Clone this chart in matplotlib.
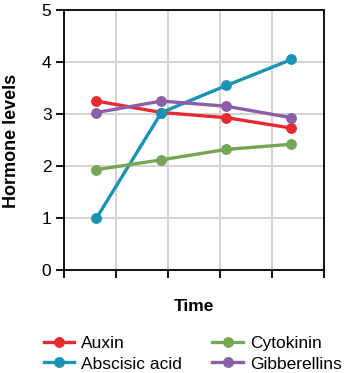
import matplotlib
matplotlib.use("Agg")
import matplotlib.pyplot as plt

plt.rcParams['font.family'] = ['Liberation Sans', 'DejaVu Sans']

x_positions = [0.625, 1.875, 3.125, 4.375]
auxin = [3.25, 3.03, 2.93, 2.73]
abscisic = [1.0, 3.03, 3.55, 4.05]
cytokinin = [1.93, 2.12, 2.32, 2.42]
gibberellins = [3.03, 3.25, 3.15, 2.93]
series_names = ["Auxin", "Abscisic acid", "Cytokinin", "Gibberellins"]
colors = ["#e52a32", "#1a93b5", "#76a655", "#8b5ea8"]
y_ticks = [0, 1, 2, 3, 4, 5]
x_ticks = [0, 1, 2, 3, 4, 5]

fig = plt.figure(figsize=(3.45, 3.73), dpi=100)
ax = fig.add_axes([0.1855, 0.276, 0.7536, 0.697])

data = [auxin, abscisic, cytokinin, gibberellins]
handles = []
for name, vals, c in zip(series_names, data, colors):
    h, = ax.plot(x_positions, vals, color=c, lw=2.4, marker='o', ms=6.8,
                 label=name, zorder=3)
    handles.append(h)

ax.set_xlim(0, 5)
ax.set_ylim(0, 5)
ax.set_xticks(x_ticks)
ax.set_xticklabels([])
ax.set_yticks(y_ticks)
ax.grid(True, color='#d3d3d3', lw=1.4)
ax.set_axisbelow(True)
for s in ax.spines.values():
    s.set_linewidth(1.3)
    s.set_color('black')
ax.tick_params(axis='both', direction='out', length=6, width=1.3,
               labelsize=12.5)
ax.tick_params(axis='y', pad=3)
ax.set_ylabel("Hormone levels", fontsize=13, fontweight='bold')
ax.yaxis.set_label_coords(-0.17, 0.496)
ax.set_xlabel("Time", fontsize=12.5, fontweight='bold')
ax.xaxis.set_label_coords(0.5, -0.112)

fig.legend(handles, series_names, ncol=2, loc='upper left',
           bbox_to_anchor=(0.127, 0.1), frameon=False, fontsize=12.5,
           handlelength=1.75, handletextpad=0.4, columnspacing=1.75,
           labelspacing=0.32, borderaxespad=0, borderpad=0)

fig.savefig("out.png", dpi=100)
